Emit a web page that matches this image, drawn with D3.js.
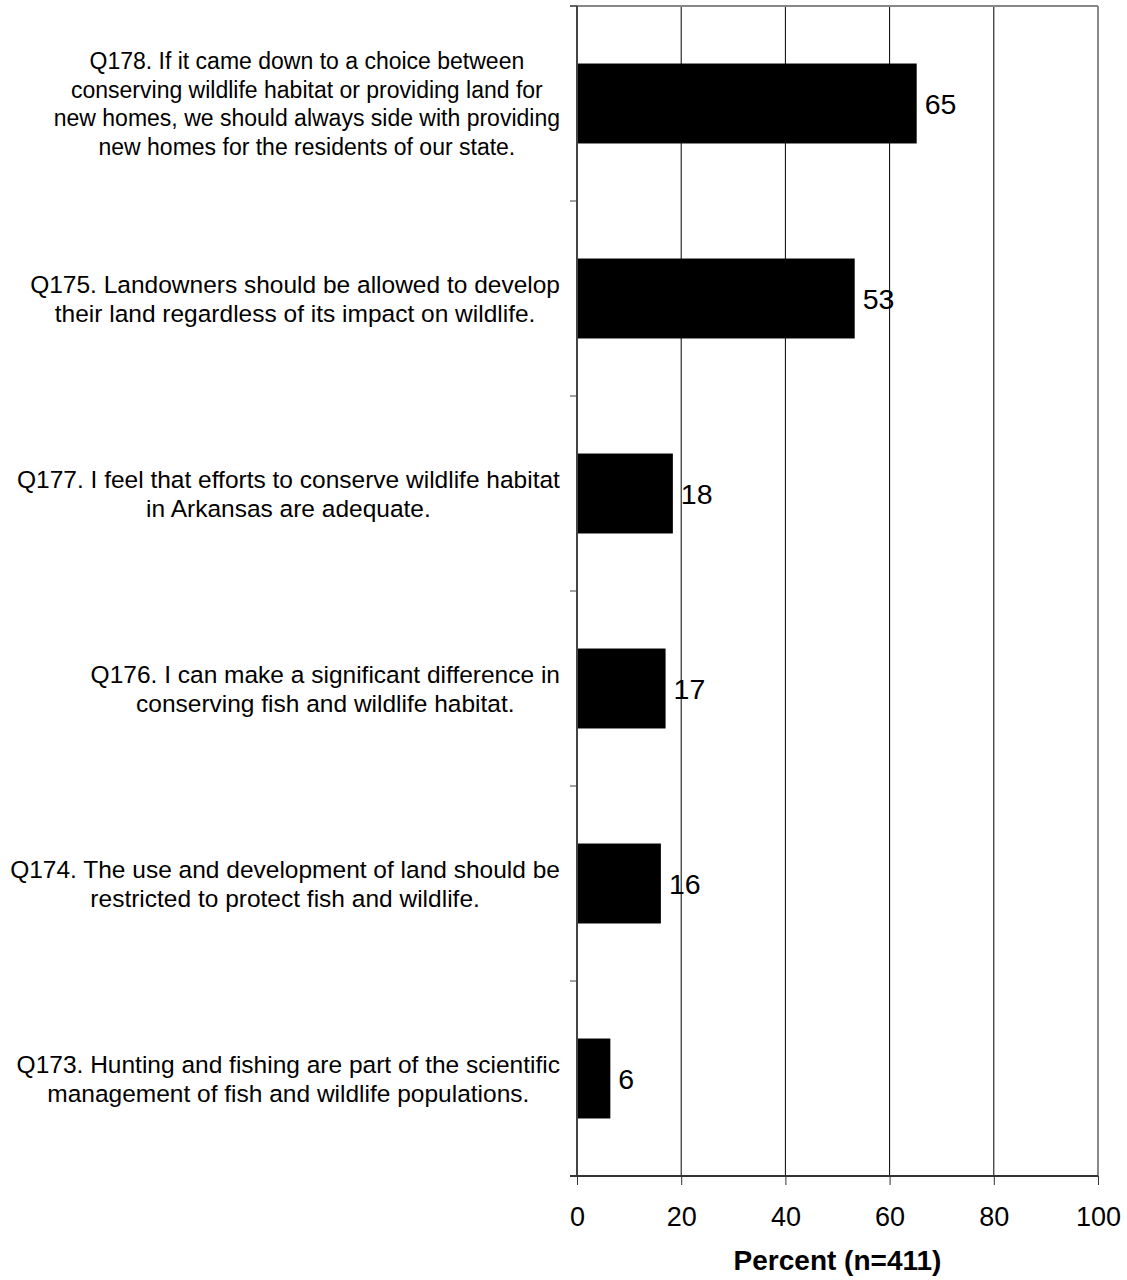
<!DOCTYPE html>
<html>
<head>
<meta charset="utf-8">
<script src="https://cdn.jsdelivr.net/npm/d3@7"></script>
<style>
	body { margin: 0; background: #fff; }
	text { font-family: Arial, "Liberation Sans", sans-serif; fill: #000; }
</style>
</head>
<body>
<svg></svg>
<script>
// questions, top to bottom (each entry is the list of wrapped lines)
var questions = [
	["Q178. If it came down to a choice between", "conserving wildlife habitat or providing land for", "new homes, we should always side with providing", "new homes for the residents of our state."],
	["Q175. Landowners should be allowed to develop", "their land regardless of its impact on wildlife."],
	["Q177. I feel that efforts to conserve wildlife habitat", "in Arkansas are adequate."],
	["Q176. I can make a significant difference in", "conserving fish and wildlife habitat."],
	["Q174. The use and development of land should be", "restricted to protect fish and wildlife."],
	["Q173. Hunting and fishing are part of the scientific", "management of fish and wildlife populations."]
];
var percents = [65.2, 53.3, 18.4, 17.0, 16.1, 6.4];
var xTicks = [0, 20, 40, 60, 80, 100];
var xTitle = "Percent (n=411)";

var draw = function() {
	var margin = {top: 6, right: 29, bottom: 104, left: 577},
		width = 1127 - margin.left - margin.right,
		height = 1280 - margin.top - margin.bottom;

	var svg = d3.select("svg")
		.attr("width", 1127)
		.attr("height", 1280)
		.append("g")
		.attr("transform", "translate(" + margin.left + "," + margin.top + ")");

	var scaleX = d3.scaleLinear().domain([0, 100]).range([0, width]);
	var scaleY = d3.scaleBand()
		.domain(d3.range(questions.length))
		.range([0, height])
		.paddingInner(0.59)
		.paddingOuter(0.295);

	// vertical gridlines
	svg.selectAll("line.grid")
		.data(xTicks.slice(1))
		.enter()
		.append("line")
		.attr("class", "grid")
		.attr("x1", function(d) { return scaleX(d); })
		.attr("x2", function(d) { return scaleX(d); })
		.attr("y1", 0)
		.attr("y2", height)
		.attr("stroke", function(d) { return d == 100 ? "#888" : "#000"; })
		.attr("stroke-width", function(d) { return d == 100 ? 2 : 1; });

	// top border
	svg.append("line")
		.attr("x1", -7).attr("x2", width)
		.attr("y1", 0).attr("y2", 0)
		.attr("stroke", "#888").attr("stroke-width", 2);

	// bars
	svg.selectAll("rect.bar")
		.data(percents)
		.enter()
		.append("rect")
		.attr("class", "bar")
		.attr("x", 0)
		.attr("y", function(d, i) { return scaleY(i); })
		.attr("width", function(d) { return scaleX(d); })
		.attr("height", scaleY.bandwidth())
		.attr("fill", "#000");

	// value labels
	svg.selectAll("text.val")
		.data(percents)
		.enter()
		.append("text")
		.attr("class", "val")
		.attr("x", function(d) { return scaleX(d) + 8; })
		.attr("y", function(d, i) { return scaleY(i) + scaleY.bandwidth() / 2; })
		.attr("dy", "0.36em")
		.style("font-size", "28.5px")
		.text(function(d) { return Math.round(d); });

	// y axis: ticks at band boundaries
	var bounds = d3.range(questions.length + 1).map(function(i) { return i * height / questions.length; });
	svg.selectAll("line.ytick")
		.data(bounds)
		.enter()
		.append("line")
		.attr("class", "ytick")
		.attr("x1", -7).attr("x2", 0)
		.attr("y1", function(d) { return d; })
		.attr("y2", function(d) { return d; })
		.attr("stroke", "#444").attr("stroke-width", 1);
	svg.append("line")
		.attr("x1", 0).attr("x2", 0)
		.attr("y1", 0).attr("y2", height)
		.attr("stroke", "#444").attr("stroke-width", 2);

	// x axis
	var xAxis = svg.append("g")
		.attr("transform", "translate(0," + height + ")")
		.call(d3.axisBottom(scaleX).tickValues(xTicks).tickSize(9).tickPadding(22));
	xAxis.select(".domain").attr("stroke", "#333").attr("stroke-width", 2)
		.attr("d", "M-7,0H" + width);
	xAxis.selectAll(".tick line").attr("stroke", "#333");
	xAxis.selectAll(".tick text")
		.style("font-family", "Arial, 'Liberation Sans', sans-serif")
		.style("font-size", "27px")
		.attr("fill", "#000");

	// x axis title
	svg.append("text")
		.attr("x", width / 2)
		.attr("y", height + 94)
		.style("text-anchor", "middle")
		.style("font-size", "28px")
		.style("font-weight", "bold")
		.text(xTitle);

	// question labels: block right-aligned, lines centered
	var lineH = 28.5;
	questions.forEach(function(lines, i) {
		var g = svg.append("g");
		var t = g.append("text")
			.style("font-size", lines.length > 2 ? "23px" : "24.5px")
			.style("text-anchor", "middle");
		var cy = scaleY(i) + scaleY.bandwidth() / 2;
		var top = cy - (lines.length - 1) * lineH / 2;
		lines.forEach(function(s, j) {
			t.append("tspan")
				.attr("x", 0)
				.attr("y", top + j * lineH)
				.attr("dy", "0.36em")
				.text(s);
		});
		var w = t.node().getBBox().width;
		t.selectAll("tspan").attr("x", -17 - w / 2);
	});
};

draw();
</script>
</body>
</html>
